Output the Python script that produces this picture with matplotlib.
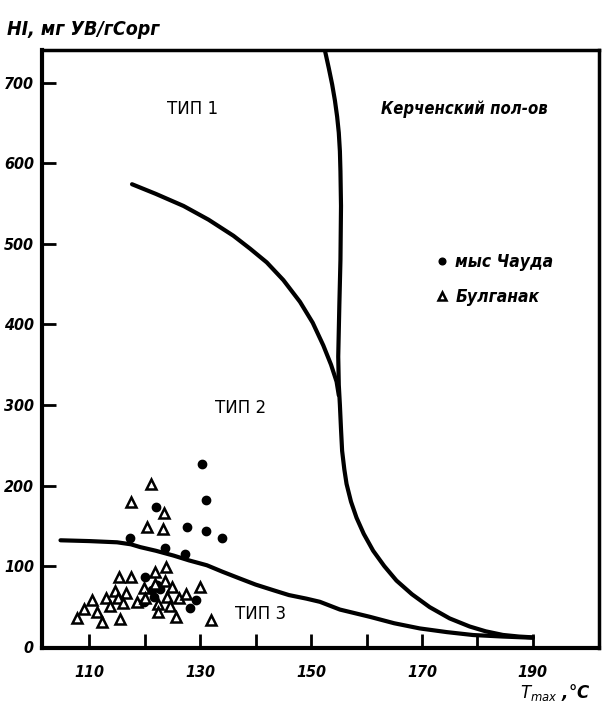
import matplotlib
matplotlib.use("Agg")
import matplotlib.pyplot as plt

plt.rcParams['font.family'] = ['DejaVu Sans']

# boundary curves (Tmax, HI)
curve_a_t = [152.5, 153.2, 153.8, 154.3, 154.7, 155.0, 155.2, 155.3, 155.4, 155.3, 155.1,
             154.9, 155.0, 155.2, 155.4, 155.6, 156.0, 156.4, 157.2, 158.2, 159.5, 161.2,
             163.2, 165.4, 168.2, 171.4, 175.0, 178.6, 181.5, 184.6, 187.5, 190.0]
curve_a_hi = [740, 718, 698, 678, 658, 638, 615, 590, 547, 480, 424,
              360, 325, 300, 270, 243, 220, 202, 180, 160, 140, 119,
              100, 82, 65, 49, 35, 25, 19, 14.5, 12.5, 11.5]

curve_b_t = [117.7, 122, 127, 131.5, 136, 139, 142, 145, 148, 150.3, 152.2, 153.6, 154.6, 155.0]
curve_b_hi = [574, 562, 547, 530, 510, 494, 477, 455, 428, 402, 374, 350, 329, 312]

curve_c_t = [104.8, 110, 115, 117.5, 119.2, 122, 125.2, 128, 131.2, 134, 137.2, 140, 143.2,
             146, 149.2, 151.6, 155.2, 160.6, 165, 169.6, 174.5, 179.2, 184.6, 190]
curve_c_hi = [132, 131, 129.5, 127, 123.5, 119, 113, 107, 101, 93, 84.4, 77, 70,
              64, 59.5, 55.6, 46, 37, 29, 22.6, 18, 14.4, 12.5, 11]

# мыс Чауда (filled circles)
chauda_t = [130.4, 131.0, 122.1, 127.7, 131.0, 133.9, 117.3, 123.7, 127.3,
            120.0, 122.2, 121.3, 122.8, 121.6, 119.8, 129.3, 128.1]
chauda_hi = [227, 182, 173, 148, 144, 135, 135, 123, 115,
             87, 76, 70, 72, 62, 56, 58, 48]

# Булганак (open triangles)
bulganak_t = [121.1, 117.6, 123.4, 120.4, 123.2,
              123.9, 121.8, 115.4, 117.5, 123.7, 124.9, 119.8, 121.9, 130.0, 114.7,
              116.6, 113.0, 115.2, 116.1, 113.8, 118.6, 120.1, 124.0, 126.1, 127.4,
              122.4, 124.6, 110.4, 109.0, 111.3, 107.7, 112.2, 115.5, 122.3, 125.7, 132.0]
bulganak_hi = [202, 180, 166, 148, 146,
               99, 93, 87, 87, 81, 74, 73, 78, 74, 69,
               67, 60, 60, 54, 50, 56, 60, 62, 60, 65,
               53, 50, 58, 47, 43, 35, 31, 34, 43, 37, 33]

x_ticks = [110, 120, 130, 140, 150, 160, 170, 180, 190]
x_labels = ['110', '', '130', '', '150', '', '170', '', '190']
y_ticks = [0, 100, 200, 300, 400, 500, 600, 700]

fig = plt.figure(figsize=(6.03, 7.1), dpi=100)
ax = fig.add_axes([0.07, 0.087, 0.923, 0.843])

ax.plot(curve_a_t, curve_a_hi, 'k-', lw=3.0, solid_capstyle='round')
ax.plot(curve_b_t, curve_b_hi, 'k-', lw=3.0, solid_capstyle='round')
ax.plot(curve_c_t, curve_c_hi, 'k-', lw=3.0, solid_capstyle='round')

ax.plot(chauda_t, chauda_hi, 'o', color='k', ms=6, ls='none', label='мыс Чауда')
ax.plot(bulganak_t, bulganak_hi, '^', mfc='white', mec='k', mew=1.8, ms=7.5, ls='none',
        label='Булганак')

ax.set_xlim(101.5, 201.9)
ax.set_ylim(-2, 741)
ax.set_xticks(x_ticks)
ax.set_xticklabels(x_labels)
ax.set_yticks(y_ticks)
ax.tick_params(direction='in', length=10, width=2.0, labelsize=11.5, pad=6)
ax.tick_params(axis='x', pad=12)
for lbl in ax.get_xticklabels() + ax.get_yticklabels():
    lbl.set_fontweight('bold')
    lbl.set_fontstyle('italic')
    lbl.set_fontstretch('condensed')
for side in ['left', 'bottom']:
    ax.spines[side].set_linewidth(3.0)
for side in ['top', 'right']:
    ax.spines[side].set_linewidth(2.5)

ax.text(128.6, 667, 'ТИП 1', fontsize=12, ha='center', va='center')
ax.text(137.2, 296, 'ТИП 2', fontsize=12, ha='center', va='center')
ax.text(140.8, 40, 'ТИП 3', fontsize=12, ha='center', va='center')
ax.text(192.7, 667, 'Керченский пол-ов', fontsize=12, ha='right', va='center',
        fontweight='bold', fontstyle='italic', fontstretch='condensed')

leg = ax.legend(loc='upper left', bbox_to_anchor=(0.68, 0.687), frameon=False,
                handlelength=0.6, handletextpad=0.5, labelspacing=1.0, markerscale=0.8,
                prop={'size': 12.5, 'weight': 'bold', 'style': 'italic', 'stretch': 'condensed'})

fig.text(0.012, 0.958, 'HI, мг УВ/гСорг', fontsize=14, fontweight='bold', fontstyle='italic',
         fontstretch='condensed', ha='left', va='center')
fig.text(0.862, 0.024, r'$T_{max}$ ,°C', fontsize=12, fontweight='bold', fontstyle='italic',
         ha='left', va='center')

fig.savefig('out.png', dpi=100)
